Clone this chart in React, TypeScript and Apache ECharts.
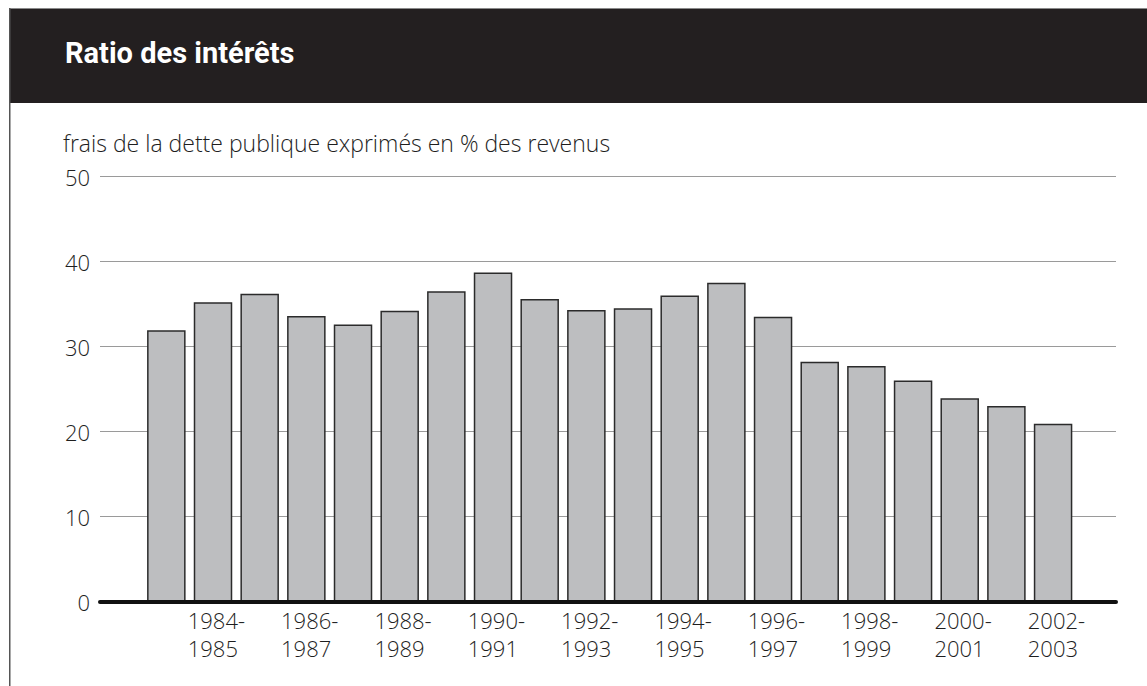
import React, { useEffect, useRef } from "react";
import * as echarts from "echarts";

const title = "Ratio des intérêts";
const subtitle = "frais de la dette publique exprimés en % des revenus";

const categories = [
  "1983-1984", "1984-1985", "1985-1986", "1986-1987", "1987-1988",
  "1988-1989", "1989-1990", "1990-1991", "1991-1992", "1992-1993",
  "1993-1994", "1994-1995", "1995-1996", "1996-1997", "1997-1998",
  "1998-1999", "1999-2000", "2000-2001", "2001-2002", "2002-2003",
];

const values = [
  31.9, 35.2, 36.2, 33.6, 32.6, 34.2, 36.5, 38.7, 35.6, 34.3,
  34.5, 36.0, 37.5, 33.5, 28.2, 27.7, 26.0, 23.9, 23.0, 20.9,
];

const yMin = 0;
const yMax = 50;
const yInterval = 10;

const FONT = "'Open Sans', Lato, sans-serif";
const TEXT_COLOR = "#1e1e1e";

export default function App() {
  const ref = useRef<HTMLDivElement>(null);

  useEffect(() => {
    if (!ref.current) return;
    const chart = echarts.init(ref.current, null, { renderer: "svg" });
    chart.setOption({
      animation: false,
      backgroundColor: "#ffffff",
      textStyle: { fontFamily: FONT },
      graphic: [
        {
          type: "rect",
          shape: { x: 9, y: 8, width: 1138, height: 95 },
          style: { fill: "#231f20" },
        },
        {
          type: "line",
          shape: { x1: 9, y1: 8.5, x2: 1147, y2: 8.5 },
          style: { stroke: "#8a8a8a", lineWidth: 1 },
        },
        {
          type: "line",
          shape: { x1: 9.75, y1: 8, x2: 9.75, y2: 686 },
          style: { stroke: "#555555", lineWidth: 1.5 },
        },
        {
          type: "text",
          x: 65,
          y: 52.5,
          style: {
            text: title,
            fill: "#ffffff",
            fontSize: 29,
            fontWeight: "bold",
            fontFamily: "Roboto, 'Liberation Sans', sans-serif",
            verticalAlign: "middle",
          },
        },
        {
          type: "text",
          x: 63,
          y: 143,
          style: {
            text: subtitle,
            fill: TEXT_COLOR,
            fontSize: 23,
            fontWeight: 300,
            fontFamily: FONT,
            verticalAlign: "middle",
          },
        },
      ],
      grid: [
        { left: 100, right: 31, top: 176.5, bottom: 84.5 },
        { left: 143, width: 933.4, top: 176.5, bottom: 84.5 },
      ],
      xAxis: [
        {
          gridIndex: 0,
          type: "value",
          min: 0,
          max: 1,
          z: 5,
          axisLine: { show: true, lineStyle: { color: "#111111", width: 4 } },
          axisTick: { show: false },
          axisLabel: { show: false },
          splitLine: { show: false },
        },
        {
          gridIndex: 1,
          type: "category",
          data: categories,
          axisLine: { show: false },
          axisTick: { show: false },
          axisLabel: {
            interval: (i: number) => i % 2 === 1,
            margin: 4,
            formatter: (v: string) => `{a|${v.replace("-", "-\n")}}`,
            rich: {
              a: {
                width: 50.6,
                align: "left",
                fontSize: 22,
                fontWeight: 300,
                lineHeight: 28,
                color: TEXT_COLOR,
                fontFamily: FONT,
              },
            },
          },
        },
      ],
      yAxis: [
        {
          gridIndex: 0,
          type: "value",
          min: yMin,
          max: yMax,
          interval: yInterval,
          axisLine: { show: false },
          axisTick: { show: false },
          axisLabel: { fontSize: 22, fontWeight: 300, color: TEXT_COLOR, margin: 10, fontFamily: FONT },
          splitLine: { lineStyle: { color: "#9a9a9a", width: 1 } },
        },
        {
          gridIndex: 1,
          type: "value",
          min: yMin,
          max: yMax,
          show: false,
        },
      ],
      series: [
        {
          type: "bar",
          xAxisIndex: 1,
          yAxisIndex: 1,
          data: values,
          barWidth: 38.5,
          z: 2,
          itemStyle: { color: "#bdbec0", borderColor: "#2b2b2b", borderWidth: 1.5 },
        },
      ],
    });
    return () => chart.dispose();
  }, []);

  return (
    <div
      ref={ref}
      style={{ position: "fixed", left: 0, top: 0, width: 1147, height: 686, background: "#fff" }}
    />
  );
}
